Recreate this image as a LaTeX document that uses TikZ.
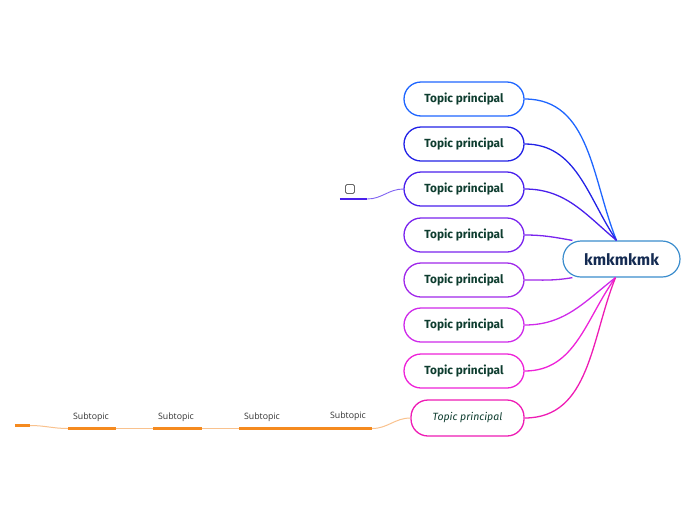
\documentclass[tikz,border=0pt]{standalone}
\usepackage{fontspec}
\setmainfont{Fira Sans}
\newfontfamily\subfont{Open Sans}
\usepackage{tikz}

\definecolor{c1}{HTML}{1F66FF}
\definecolor{c2}{HTML}{2222E6}
\definecolor{c3}{HTML}{4A20EC}
\definecolor{c4}{HTML}{7A24EE}
\definecolor{c5}{HTML}{A028EA}
\definecolor{c6}{HTML}{CF2AEA}
\definecolor{c7}{HTML}{EE22D8}
\definecolor{c8}{HTML}{EE1CB4}
\definecolor{rootline}{HTML}{3B8DCD}
\definecolor{rootink}{HTML}{142B52}
\definecolor{topicink}{HTML}{0E3D2F}
\definecolor{suborange}{HTML}{F58A1F}
\definecolor{sublight}{HTML}{F9C28E}

\begin{document}
\begin{tikzpicture}[x=1pt, y=-1pt,
    root/.style={draw=rootline, line width=1.2pt, fill=white, rounded corners=18pt,
        minimum width=117pt, minimum height=36pt, text=rootink,
        font=\bfseries\fontsize{15.8}{18}\selectfont},
    topic/.style={draw, line width=1.3pt, fill=white, rounded corners=17pt,
        minimum width=120pt, minimum height=34pt, text=topicink,
        font=\bfseries\fontsize{11.8}{14}\selectfont},
    link/.style={line width=1.3pt},
    subnode/.style={minimum width=48pt, minimum height=0pt, inner sep=0pt},
    sublabel/.style={font=\subfont\fontsize{8.8}{10}\selectfont, text=black!80, inner sep=1pt},
    underline/.style={suborange, line width=2.4pt},
    sublink/.style={sublight, line width=1pt}]
    \useasboundingbox (0,0) rectangle (696,520);

    \node[root] (k) at (621.5,259) {kmkmkmk};
    \coordinate (hubN) at ([xshift=-5pt]k.north);
    \coordinate (hubS) at ([xshift=-6pt]k.south);
    \coordinate (hubNW) at ([xshift=10pt]k.north west);
    \coordinate (hubSW) at ([xshift=10pt]k.south west);

    % main topics
    \foreach \i/\y/\h/\a in {1/99/hubN/112, 2/144/hubN/124, 3/189/hubN/140, 4/235/hubNW/170,
                             5/280/hubSW/190, 6/325/hubS/218, 7/371/hubS/234} {
        \node[topic, draw=c\i] (t\i) at (464,\y) {Topic principal};
        \draw[link, c\i] (t\i.east) to[out=0, in=\a] (\h);
    }
    \node[topic, draw=c8, minimum width=113pt, minimum height=36pt,
          font=\itshape\fontsize{10.5}{12}\selectfont] (t8) at (467.5,418) {Topic principal};
    \draw[link, c8] (t8.east) to[out=0, in=248] (hubS);

    % checkbox branch
    \node[subnode, minimum width=27pt] (tk) at (353.5,199) {};
    \node[draw=black!60, line width=0.9pt, rounded corners=1.5pt, minimum size=9pt,
          inner sep=0pt] (box) at (350,189) {};
    \draw[c3, line width=2.2pt] (tk.west) -- (tk.east);
    \draw[c3!70, line width=0.9pt] (tk.east) to[out=0, in=180] (t3.west);

    % subtopics
    \foreach \i/\x in {1/92, 2/177.5, 3/263} {
        \node[subnode] (s\i) at (\x,428.5) {};
        \draw[underline] (s\i.west) -- (s\i.east);
    }
    \node[subnode, minimum width=85pt] (s4) at (329.5,428.5) {};
    \draw[underline] (s4.west) -- (s4.east);
    \foreach \i/\x/\y in {1/91/417, 2/176/417, 3/262/417, 4/348/416}
        \node[sublabel] (l\i) at (\x,\y) {Subtopic};
    \node[subnode, minimum width=15pt] (s0) at (22.5,425.5) {};
    \draw[underline] (s0.west) -- (s0.east);

    \draw[sublink] (t8.west) to[out=180, in=0] (s4.east);
    \draw[sublink] (s3.west) -- (s2.east);
    \draw[sublink] (s2.west) -- (s1.east);
    \draw[sublink] (s1.west) to[out=180, in=0] (s0.east);
\end{tikzpicture}
\end{document}
